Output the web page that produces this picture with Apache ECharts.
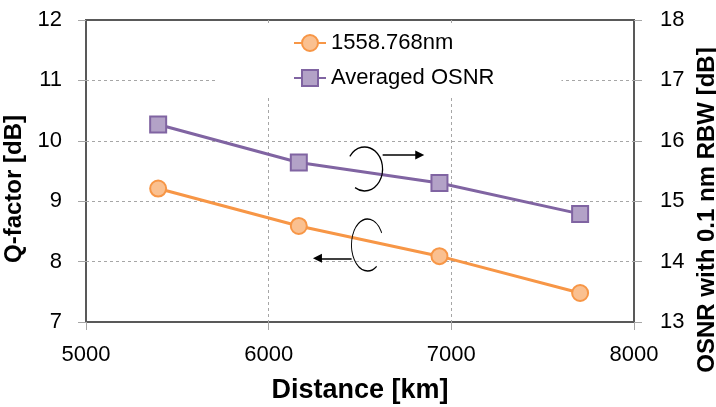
<!DOCTYPE html>
<html><head><meta charset="utf-8">
<script src="https://cdn.jsdelivr.net/npm/echarts@6/dist/echarts.min.js"></script>
<style>html,body{margin:0;padding:0;background:#fff}#c{width:716px;height:407px}</style>
</head><body><div id="c"></div>
<script>
// ---- data ----
const distanceKm = [5395, 6165, 6935, 7705];
const qFactorDb = [9.21, 8.59, 8.09, 7.48];
const osnrDb = [16.27, 15.64, 15.30, 14.79];
const xTickValues = [5000, 6000, 7000, 8000];
const qTickValues = [7, 8, 9, 10, 11, 12];
const osnrTickValues = [13, 14, 15, 16, 17, 18];
const seriesNames = ['1558.768nm', 'Averaged OSNR'];
// annotation anchors in data units (distance, Q-factor)
const upperLoop = [6525, 9.533];
const lowerLoop = [6541, 8.275];
const upperArrow = [[6624, 9.765], [6827, 9.765]];
const lowerArrow = [[6454, 8.055], [6267, 8.055]];

const FONT = '"Liberation Sans", Arial, sans-serif';
const chart = echarts.init(document.getElementById('c'), null, {renderer: 'canvas'});

function axisCommon() {
  return {
    axisLine: {show: false},
    axisTick: {show: true, length: 8, lineStyle: {color: '#A6A6A6', width: 1}},
    axisLabel: {color: '#000', fontSize: 22, fontFamily: FONT},
    nameTextStyle: {color: '#000', fontSize: 24, fontWeight: 'bold', fontFamily: FONT}
  };
}
const dashed = {show: true, showMinLine: false, showMaxLine: false,
  lineStyle: {color: '#A6A6A6', width: 1, type: [3, 3]}};

const option = {
  animation: false,
  backgroundColor: '#fff',
  grid: {left: 86, right: 82, top: 20, bottom: 85, show: true,
    outerBoundsMode: 'none', containLabel: false,
    borderColor: '#595959', borderWidth: 2, backgroundColor: 'transparent'},
  legend: {
    orient: 'vertical', left: 217, top: 26,
    padding: [6, 67, 6, 76], backgroundColor: '#fff',
    itemWidth: 32, itemHeight: 20, itemGap: 13,
    textStyle: {color: '#000', fontSize: 22, fontFamily: FONT},
    data: seriesNames
  },
  xAxis: Object.assign(axisCommon(), {
    type: 'value',
    min: xTickValues[0], max: xTickValues[xTickValues.length - 1],
    interval: xTickValues[1] - xTickValues[0],
    name: 'Distance [km]', nameLocation: 'middle', nameGap: 55,
    nameTextStyle: {color: '#000', fontSize: 27, fontWeight: 'bold', fontFamily: FONT},
    axisLabel: {color: '#000', fontSize: 22, fontFamily: FONT, margin: 22,
      formatter: v => String(v)},
    splitLine: dashed
  }),
  yAxis: [
    Object.assign(axisCommon(), {
      type: 'value', position: 'left',
      min: qTickValues[0], max: qTickValues[qTickValues.length - 1],
      interval: qTickValues[1] - qTickValues[0],
      name: 'Q-factor [dB]', nameLocation: 'middle', nameGap: 48,
      nameTextStyle: {color: '#000', fontSize: 24, fontWeight: 'bold', fontFamily: FONT, padding: [0, 36, 0, 0]},
      axisLabel: {color: '#000', fontSize: 22, fontFamily: FONT, margin: 24},
      splitLine: dashed
    }),
    Object.assign(axisCommon(), {
      type: 'value', position: 'right',
      min: osnrTickValues[0], max: osnrTickValues[osnrTickValues.length - 1],
      interval: osnrTickValues[1] - osnrTickValues[0],
      name: 'OSNR with 0.1 nm RBW [dB]', nameLocation: 'middle', nameGap: 57,
      nameTextStyle: {color: '#000', fontSize: 24, fontWeight: 'bold', fontFamily: FONT, padding: [0, 78, 0, 0]},
      axisLabel: {color: '#000', fontSize: 22, fontFamily: FONT, margin: 26},
      splitLine: {show: false}
    })
  ],
  series: [
    {
      name: seriesNames[0], type: 'line', yAxisIndex: 0,
      data: distanceKm.map((d, i) => [d, qFactorDb[i]]),
      symbol: 'circle', symbolSize: 16,
      lineStyle: {color: '#F79646', width: 3},
      itemStyle: {color: '#FAC090', borderColor: '#F79646', borderWidth: 2},
      emphasis: {disabled: true},
      markLine: {
        silent: true, animation: false,
        symbol: ['none', 'triangle'], symbolSize: [9, 9],
        label: {show: false},
        lineStyle: {color: '#000', width: 1.5, type: 'solid'},
        emphasis: {disabled: true},
        data: [
          [{coord: upperArrow[0]}, {coord: upperArrow[1]}],
          [{coord: lowerArrow[0]}, {coord: lowerArrow[1]}]
        ]
      }
    },
    {
      name: seriesNames[1], type: 'line', yAxisIndex: 1,
      data: distanceKm.map((d, i) => [d, osnrDb[i]]),
      symbol: 'rect', symbolSize: 16,
      lineStyle: {color: '#8064A2', width: 3},
      itemStyle: {color: '#B3A2C7', borderColor: '#8064A2', borderWidth: 2},
      emphasis: {disabled: true}
    }
  ]
};
chart.setOption(option);

function loop(anchor, rx, ry, a0, a1) {
  const p = chart.convertToPixel({xAxisIndex: 0, yAxisIndex: 0}, anchor);
  const deg = Math.PI / 180;
  return {
    type: 'arc', silent: true, x: p[0], y: p[1], scaleX: rx / ry, z: 10,
    shape: {cx: 0, cy: 0, r: ry, startAngle: a0 * deg, endAngle: a1 * deg, clockwise: true},
    style: {stroke: '#000', lineWidth: 1.5, fill: 'none', strokeNoScale: true}
  };
}
chart.setOption({
  graphic: [
    loop(upperLoop, 18, 22, -145, 122),
    loop(lowerLoop, 16, 26, 55, 332)
  ]
});
</script></body></html>
